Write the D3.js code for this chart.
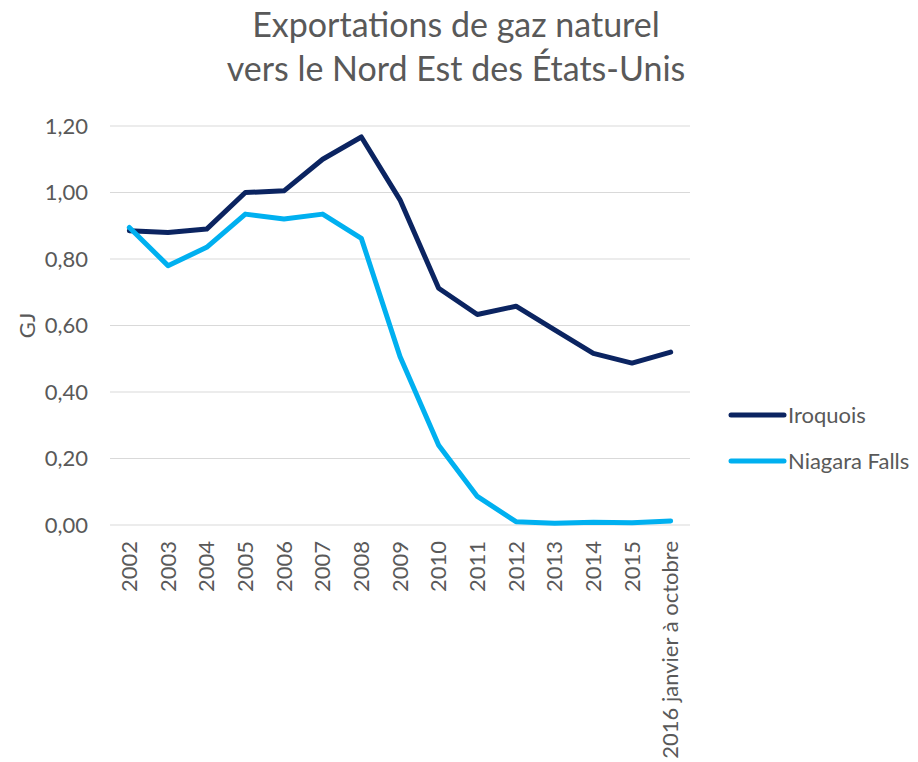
<!DOCTYPE html>
<html>
<head>
<meta charset="utf-8">
<script src="https://cdn.jsdelivr.net/npm/d3@7"></script>
<style>
  body { margin: 0; background: #fff; }
  text { font-family: Lato, "Open Sans", sans-serif; fill: #595959; }
</style>
</head>
<body>
<div id="chart"></div>
<script>
// Data
const years = ['2002', '2003', '2004', '2005', '2006', '2007', '2008', '2009',
  '2010', '2011', '2012', '2013', '2014', '2015', '2016 janvier à octobre'];
const iroquois = [0.885, 0.88, 0.89, 1.00, 1.005, 1.10, 1.167, 0.978, 0.712, 0.633, 0.658, 0.587, 0.516, 0.487, 0.52];
const niagara = [0.895, 0.78, 0.835, 0.935, 0.92, 0.935, 0.862, 0.507, 0.24, 0.086, 0.01, 0.005, 0.008, 0.007, 0.012];
const yTicks = [0, 0.2, 0.4, 0.6, 0.8, 1.0, 1.2];

const series = [
  { name: 'Iroquois', values: iroquois, color: '#0b2461' },
  { name: 'Niagara Falls', values: niagara, color: '#00b0f0' }
];

const WIDTH = 918;
const HEIGHT = 762;
const MARGIN = { top: 126, right: 228, bottom: 237, left: 110 };
const FONT = 'Lato, "Open Sans", sans-serif';

const svg = d3.select('#chart')
  .append('svg')
  .attr('width', WIDTH)
  .attr('height', HEIGHT);

const x = d3.scaleBand()
  .domain(years)
  .range([MARGIN.left, WIDTH - MARGIN.right]);

const y = d3.scaleLinear()
  .domain([0, 1.2])
  .range([HEIGHT - MARGIN.bottom, MARGIN.top]);

const fmt = d => d3.format('.2f')(d).replace('.', ',');

// Title
svg.append('text')
  .attr('x', 456)
  .attr('y', 37)
  .attr('text-anchor', 'middle')
  .style('font-size', '34px')
  .text('Exportations de gaz naturel');
svg.append('text')
  .attr('x', 456)
  .attr('y', 81)
  .attr('text-anchor', 'middle')
  .style('font-size', '34px')
  .text('vers le Nord Est des États-Unis');

// Gridlines
svg.append('g')
  .selectAll('line')
  .data(yTicks)
  .enter()
  .append('line')
  .attr('x1', MARGIN.left)
  .attr('x2', WIDTH - MARGIN.right)
  .attr('y1', d => y(d))
  .attr('y2', d => y(d))
  .attr('stroke', '#d9d9d9')
  .attr('stroke-width', 1.2);

// Y axis labels
const yAxis = svg.append('g')
  .attr('transform', `translate(${MARGIN.left - 22},0)`)
  .call(d3.axisLeft(y).tickValues(yTicks).tickFormat(fmt).tickSize(0).tickPadding(0));
yAxis.select('.domain').remove();
yAxis.selectAll('text')
  .style('font-size', '22px')
  .style('font-family', FONT)
  .attr('fill', '#595959');

svg.append('text')
  .attr('transform', `translate(27, ${y(0.6)}) rotate(-90)`)
  .attr('text-anchor', 'middle')
  .attr('dy', '0.35em')
  .style('font-size', '22px')
  .text('GJ');

// X axis labels
const xAxis = svg.append('g')
  .attr('transform', `translate(0, ${HEIGHT - MARGIN.bottom + 16})`)
  .call(d3.axisBottom(x).tickSize(0).tickPadding(0));
xAxis.select('.domain').remove();
xAxis.selectAll('text')
  .attr('transform', 'rotate(-90)')
  .attr('text-anchor', 'end')
  .attr('x', 0)
  .attr('y', 0)
  .attr('dy', '0.35em')
  .style('font-size', '22px')
  .style('font-family', FONT)
  .attr('fill', '#595959');

// Lines
const line = d3.line()
  .x((d, i) => x(years[i]) + x.bandwidth() / 2)
  .y(d => y(d));

svg.append('g')
  .selectAll('path')
  .data(series)
  .enter()
  .append('path')
  .attr('d', d => line(d.values))
  .attr('fill', 'none')
  .attr('stroke', d => d.color)
  .attr('stroke-width', 5)
  .attr('stroke-linejoin', 'round')
  .attr('stroke-linecap', 'round');

// Legend
const legend = svg.append('g')
  .attr('transform', 'translate(731, 415)');

legend.selectAll('line')
  .data(series)
  .enter()
  .append('line')
  .attr('x1', 0)
  .attr('x2', 53)
  .attr('y1', (d, i) => i * 46)
  .attr('y2', (d, i) => i * 46)
  .attr('stroke', d => d.color)
  .attr('stroke-width', 5)
  .attr('stroke-linecap', 'round');

legend.selectAll('text')
  .data(series)
  .enter()
  .append('text')
  .attr('x', 57)
  .attr('y', (d, i) => i * 46)
  .attr('dy', '0.35em')
  .style('font-size', '22px')
  .text(d => d.name);
</script>
</body>
</html>
